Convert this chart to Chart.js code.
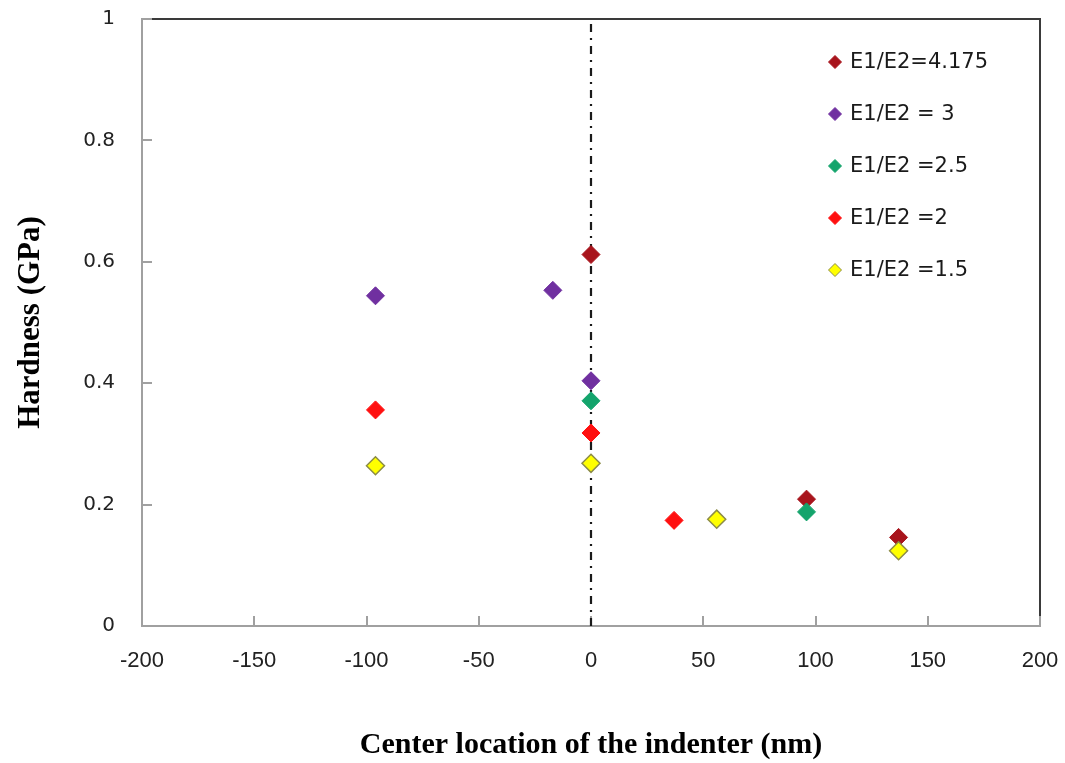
<!DOCTYPE html>
<html>
<head>
<meta charset="utf-8">
<title>Hardness vs. indenter location</title>
<script src="https://cdn.jsdelivr.net/npm/chart.js@4.4.1/dist/chart.umd.min.js"></script>
<style>
  html, body { margin: 0; padding: 0; background: #ffffff; }
  #wrap { position: relative; width: 1065px; height: 763px; }
</style>
</head>
<body>
<div id="wrap"><canvas id="chart" width="1065" height="763"></canvas></div>
<script>
// Series labels (modulus ratio of the two layers)
const seriesLabels = ['E1/E2=4.175', 'E1/E2 = 3', 'E1/E2 =2.5', 'E1/E2 =2', 'E1/E2 =1.5'];

// Center location of the indenter (nm) and measured hardness (GPa)
const xRatio4175 = [0, 96, 137];
const yRatio4175 = [0.612, 0.209, 0.146];

const xRatio3 = [-96, -17, 0];
const yRatio3 = [0.544, 0.553, 0.404];

const xRatio25 = [0, 96];
const yRatio25 = [0.371, 0.188];

const xRatio2 = [-96, 0, 37];
const yRatio2 = [0.356, 0.318, 0.174];

const xRatio15 = [-96, 0, 56, 137];
const yRatio15 = [0.264, 0.268, 0.176, 0.124];

// Interface position marker (vertical dash-dot line at x = 0)
const interfaceX = [0, 0];
const interfaceY = [0, 1];

// Axis ranges and tick steps
const xRange = [-200, 200];
const xStep = 50;
const yRange = [0, 1];
const yStep = 0.2;

const fillColors = ['#a8141c', '#7030a0', '#14a46c', '#ff1010', '#ffff00'];
const edgeColors = ['#a8141c', '#7030a0', '#14a46c', '#ff1010', '#8c8c46'];

function toPoints(xs, ys) {
  return xs.map((x, i) => ({ x: x, y: ys[i] }));
}

const seriesX = [xRatio4175, xRatio3, xRatio25, xRatio2, xRatio15];
const seriesY = [yRatio4175, yRatio3, yRatio25, yRatio2, yRatio15];

const datasets = seriesLabels.map((label, i) => ({
  type: 'scatter',
  label: label,
  data: toPoints(seriesX[i], seriesY[i]),
  pointStyle: 'rectRot',
  pointRadius: 9,
  pointHoverRadius: 9,
  backgroundColor: fillColors[i],
  borderColor: edgeColors[i],
  pointBorderWidth: i === 4 ? 1.5 : 1,
  // later series sit on top of earlier ones
  order: seriesLabels.length - i
}));

datasets.push({
  type: 'line',
  label: '',
  data: toPoints(interfaceX, interfaceY),
  borderColor: '#1a1a1a',
  borderWidth: 2.2,
  borderDash: [8, 6, 2, 6],
  pointRadius: 0,
  fill: false,
  order: 10
});

// Frame (top/right edges) and inward-pointing tick marks
const framePlugin = {
  id: 'frameAndTicks',
  beforeDatasetsDraw(chart) {
    const { ctx, chartArea: a, scales } = chart;
    ctx.save();
    ctx.strokeStyle = '#3a3a3a';
    ctx.lineWidth = 2;
    ctx.beginPath();
    ctx.moveTo(a.left, a.top);
    ctx.lineTo(a.right, a.top);
    ctx.lineTo(a.right, a.bottom);
    ctx.stroke();

    ctx.strokeStyle = '#a0a0a0';
    ctx.lineWidth = 2;
    const len = 10;
    ctx.beginPath();
    scales.x.ticks.forEach((t) => {
      const px = Math.round(scales.x.getPixelForValue(t.value));
      ctx.moveTo(px, a.bottom);
      ctx.lineTo(px, a.bottom - len);
    });
    scales.y.ticks.forEach((t) => {
      const py = Math.round(scales.y.getPixelForValue(t.value));
      ctx.moveTo(a.left, py);
      ctx.lineTo(a.left + len, py);
    });
    ctx.stroke();
    ctx.restore();
  }
};

// Legend drawn inside the plot area, one entry per row
const insideLegend = {
  id: 'insideLegend',
  afterDraw(chart) {
    const { ctx, chartArea: a } = chart;
    const markerX = a.right - 205;
    const textX = markerX + 15;
    const top = a.top + 43;
    const rowGap = 52;
    const r = 6.5;
    ctx.save();
    ctx.font = '21px "DejaVu Sans", sans-serif';
    ctx.textBaseline = 'middle';
    ctx.textAlign = 'left';
    chart.data.datasets.forEach((ds, i) => {
      if (!ds.label) return;
      const y = top + i * rowGap;
      ctx.beginPath();
      ctx.moveTo(markerX - r, y);
      ctx.lineTo(markerX, y - r);
      ctx.lineTo(markerX + r, y);
      ctx.lineTo(markerX, y + r);
      ctx.closePath();
      ctx.fillStyle = ds.backgroundColor;
      ctx.fill();
      ctx.lineWidth = 1;
      ctx.strokeStyle = ds.borderColor;
      ctx.stroke();
      ctx.fillStyle = '#1a1a1a';
      ctx.fillText(ds.label, textX, y + 1);
    });
    ctx.restore();
  }
};

// Tick labels print as 0, 0.2, ... 1 (no trailing zeros)
function plainNumber(value) {
  return String(Number(value.toFixed(2)));
}

new Chart(document.getElementById('chart'), {
  type: 'scatter',
  data: { datasets: datasets },
  plugins: [framePlugin, insideLegend],
  options: {
    responsive: false,
    animation: false,
    layout: { padding: { top: 19, right: 25, left: 0, bottom: 0 } },
    plugins: {
      legend: { display: false },
      tooltip: { enabled: false }
    },
    scales: {
      x: {
        type: 'linear',
        min: xRange[0],
        max: xRange[1],
        ticks: {
          stepSize: xStep,
          padding: 22,
          color: '#222222',
          font: { family: '"Liberation Sans", Arial, sans-serif', size: 22 },
          callback: plainNumber
        },
        grid: { display: false, drawTicks: false },
        border: { display: true, color: '#a0a0a0', width: 2 },
        title: {
          display: true,
          text: 'Center location of the indenter (nm)',
          color: '#000000',
          font: { family: '"Liberation Serif", "Times New Roman", serif', size: 30, weight: 'bold' },
          padding: { top: 0, bottom: 0 }
        },
        afterFit(scale) {
          scale.height = 137;
          scale.paddingLeft = 0;
          scale.paddingRight = 0;
        }
      },
      y: {
        type: 'linear',
        min: yRange[0],
        max: yRange[1],
        ticks: {
          stepSize: yStep,
          padding: 27,
          color: '#222222',
          font: { family: '"DejaVu Sans", Verdana, sans-serif', size: 20 },
          callback: plainNumber
        },
        grid: { display: false, drawTicks: false },
        border: { display: true, color: '#a0a0a0', width: 2 },
        title: {
          display: true,
          text: 'Hardness (GPa)',
          color: '#000000',
          font: { family: '"Liberation Serif", "Times New Roman", serif', size: 31, weight: 'bold' },
          padding: { top: 12, bottom: 0 }
        },
        afterFit(scale) {
          scale.width = 142;
          scale.paddingTop = 0;
          scale.paddingBottom = 0;
        }
      }
    }
  }
});
</script>
</body>
</html>
